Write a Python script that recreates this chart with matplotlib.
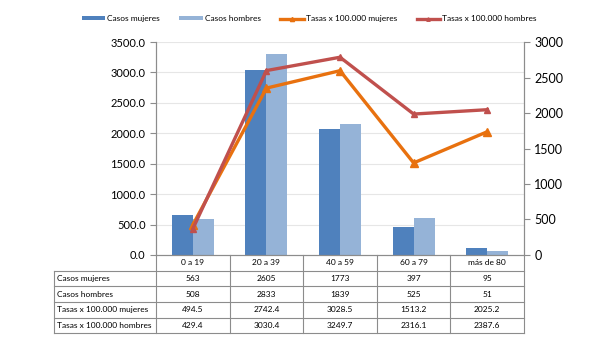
import matplotlib
matplotlib.use("Agg")
from matplotlib import pyplot as plt
from matplotlib.transforms import blended_transform_factory as blend

plt.rcParams['font.family'] = ['Lato', 'DejaVu Sans']

grupos = ["0 a 19", "20 a 39", "40 a 59", "60 a 79", "más de 80"]
casos_mujeres = [563, 2605, 1773, 397, 95]
casos_hombres = [508, 2833, 1839, 525, 51]
tasas_mujeres = [494.5, 2742.4, 3028.5, 1513.2, 2025.2]
tasas_hombres = [429.4, 3030.4, 3249.7, 2316.1, 2387.6]

filas = ["Casos mujeres", "Casos hombres", "Tasas x 100.000 mujeres", "Tasas x 100.000 hombres"]
valores = [[str(v) for v in casos_mujeres], [str(v) for v in casos_hombres],
           ["%.1f" % v for v in tasas_mujeres], ["%.1f" % v for v in tasas_hombres]]

c_muj = "#4F81BD"
c_hom = "#95B3D7"
c_tmuj = "#E8710F"
c_thom = "#C0504D"
gris = "#8C8C8C"

fig = plt.figure(figsize=(6.04, 3.59), dpi=100)
ax = fig.add_axes([0.2583, 0.2897, 0.6093, 0.5933])   # bars, right scale
axl = ax.twinx()                                       # lines, left scale
axl.yaxis.tick_left()
axl.yaxis.set_label_position("left")
ax.yaxis.tick_right()

x = list(range(len(grupos)))
w = 0.285
b1 = ax.bar([i - w / 2 for i in x], casos_mujeres, w, color=c_muj, label="Casos mujeres", zorder=2)
b2 = ax.bar([i + w / 2 for i in x], casos_hombres, w, color=c_hom, label="Casos hombres", zorder=2)
ax.set_ylim(0, 3000)
ax.set_xlim(-0.5, len(grupos) - 0.5)
ax.set_yticks(range(0, 3001, 500))
ax.set_xticks([])

l1, = axl.plot(x, tasas_mujeres, color=c_tmuj, lw=2.4, marker="^", ms=6, label="Tasas x 100.000 mujeres")
l2, = axl.plot(x, tasas_hombres, color=c_thom, lw=2.4, marker="^", ms=5, label="Tasas x 100.000 hombres")
axl.set_ylim(0, 3500)
axl.set_yticks(range(0, 3501, 500))
axl.set_yticklabels(["%.1f" % t for t in range(0, 3501, 500)])
axl.set_xlim(-0.5, len(grupos) - 0.5)

# gridlines aligned with the left scale, drawn behind the bars
ax.hlines(range(500, 3501, 500), 0, 1, transform=blend(ax.transAxes, axl.transData),
          color="#E6E6E6", lw=0.8, zorder=1)

for a in (ax, axl):
    a.spines["top"].set_visible(False)
    for s in ("left", "right", "bottom"):
        a.spines[s].set_color(gris)
    a.tick_params(axis="y", colors=gris, labelcolor="black", labelsize=8, length=4)
ax.tick_params(axis="y", labelsize=9)

# table under the chart
tr = blend(ax.transData, ax.transAxes)
rh = 0.0735
lab_x = -0.277
for i, g in enumerate(grupos):
    ax.text(i, -rh / 2, g, transform=tr, ha="center", va="center", fontsize=6)
for i in range(len(grupos) + 1):
    ax.plot([i - 0.5, i - 0.5], [0, -rh * 5], transform=tr, color=gris, lw=0.8, clip_on=False)
ax.plot([lab_x, lab_x], [-rh, -rh * 5], transform=ax.transAxes, color=gris, lw=0.8, clip_on=False)
for k in range(1, 6):
    ax.plot([lab_x, 1], [-rh * k, -rh * k], transform=ax.transAxes, color=gris, lw=0.8, clip_on=False)
for r, (nombre, fila) in enumerate(zip(filas, valores)):
    yc = -rh * (r + 1.5)
    ax.text(lab_x + 0.008, yc, nombre, transform=ax.transAxes, ha="left", va="center", fontsize=6)
    for i, v in enumerate(fila):
        ax.text(i, yc, v, transform=tr, ha="center", va="center", fontsize=6)

leg = fig.legend([b1, b2, l1, l2], [b1.get_label(), b2.get_label(), l1.get_label(), l2.get_label()],
                 loc="center", bbox_to_anchor=(0.512, 0.948), ncol=4, frameon=False, fontsize=6,
                 handlelength=2.8, handleheight=0.4, columnspacing=2.3, handletextpad=0.3,
                 markerscale=0.5)

fig.savefig("out.png", dpi=100)
